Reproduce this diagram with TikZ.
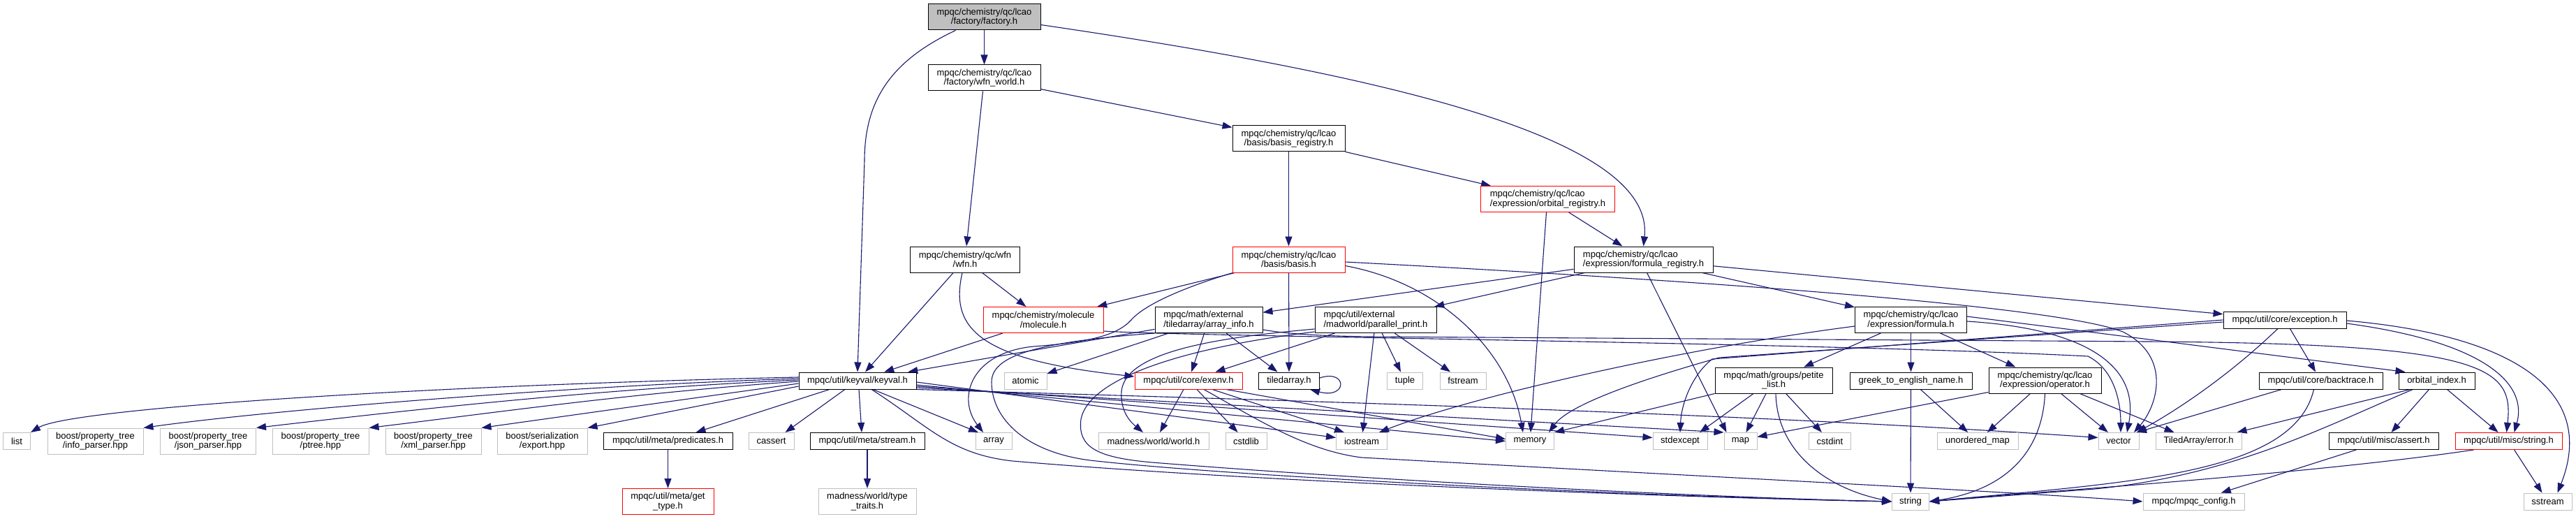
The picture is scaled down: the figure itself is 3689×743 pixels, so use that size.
\documentclass[tikz,border=0pt]{standalone}
\usepackage{fontspec}
\setmainfont{Liberation Sans}
\usetikzlibrary{arrows.meta}

\definecolor{edgeblue}{HTML}{191970}
\definecolor{extgray}{HTML}{BFBFBF}

\pgfdeclarelayer{bg}
\pgfdeclarelayer{edgelayer}
\pgfsetlayers{bg,edgelayer,main}

\tikzset{
  hdr/.style={draw=black, fill=white, line width=1pt, inner xsep=0pt, inner ysep=0pt,
    minimum height=24pt, font=\fontsize{13pt}{13.3pt}\selectfont},
  hdrtwo/.style={hdr, minimum height=37pt, align=center},
  hdrleft/.style={hdr, minimum height=37pt, align=left},
  sysinc/.style={hdr, draw=extgray},
  sysinctwo/.style={hdrtwo, draw=extgray},
  trunc/.style={draw=red},
  rootfile/.style={fill=extgray},
  dep/.style={draw=edgeblue, line width=1.1pt, -{Triangle[length=14pt,width=10pt]}}
}

\begin{document}
\begin{tikzpicture}[x=1pt, y=-1pt]
  \useasboundingbox (0,0) rectangle (3689,743);
  \begin{pgfonlayer}{bg}
    \fill[white] (0,0) rectangle (3689,743);
  \end{pgfonlayer}

  % Upper files
  \node[hdrtwo, rootfile, minimum width=161pt] (factory) at (1409.5,24.5) {mpqc/chemistry/qc/lcao\\/factory/factory.h};
  \node[hdrtwo, minimum width=161pt] (wfnworld) at (1409.5,111.5) {mpqc/chemistry/qc/lcao\\/factory/wfn\_world.h};
  \node[hdrtwo, minimum width=161pt] (basisreg) at (1845.5,198.5) {mpqc/chemistry/qc/lcao\\/basis/basis\_registry.h};
  \node[hdrleft, trunc, minimum width=192pt] (orbreg) at (2216.5,285) {mpqc/chemistry/qc/lcao\\/expression/orbital\_registry.h};
  \node[hdrtwo, minimum width=157pt] (wfn) at (1382,371.5) {mpqc/chemistry/qc/wfn\\/wfn.h};
  \node[hdrtwo, trunc, minimum width=161pt] (basis) at (1845.5,371.5) {mpqc/chemistry/qc/lcao\\/basis/basis.h};
  \node[hdrleft, minimum width=199pt] (formreg) at (2353.5,371.5) {mpqc/chemistry/qc/lcao\\/expression/formula\_registry.h};

  % Middle files
  \node[hdrtwo, trunc, minimum width=172pt] (molecule) at (1494,458) {mpqc/chemistry/molecule\\/molecule.h};
  \node[hdrleft, minimum width=154pt] (arrayinfo) at (1731,458) {mpqc/math/external\\/tiledarray/array\_info.h};
  \node[hdrleft, minimum width=174pt] (parprint) at (1970,458) {mpqc/util/external\\/madworld/parallel\_print.h};
  \node[hdrtwo, minimum width=160pt] (formula) at (2736.5,458) {mpqc/chemistry/qc/lcao\\/expression/formula.h};
  \node[hdr, minimum width=176pt] (exception) at (3272,458) {mpqc/util/core/exception.h};

  \node[hdr, minimum width=168pt] (keyval) at (1228,545) {mpqc/util/keyval/keyval.h};
  \node[sysinc, minimum width=61pt] (atomic) at (1468.5,545) {atomic};
  \node[hdr, trunc, minimum width=154pt] (exenv) at (1702,545) {mpqc/util/core/exenv.h};
  \node[hdr, minimum width=87pt] (tiledarray) at (1846,545) {tiledarray.h};
  \node[sysinc, minimum width=51pt] (tuple) at (2012,545) {tuple};
  \node[sysinc, minimum width=66pt] (fstream) at (2095,545) {fstream};
  \node[hdrtwo, minimum width=168pt] (petite) at (2540,544.5) {mpqc/math/groups/petite\\\_list.h};
  \node[hdr, minimum width=175pt] (greek) at (2736.5,545) {greek\_to\_english\_name.h};
  \node[hdrtwo, minimum width=161pt] (operator) at (2928.5,544.5) {mpqc/chemistry/qc/lcao\\/expression/operator.h};
  \node[hdr, minimum width=177pt] (backtrace) at (3323.5,545) {mpqc/util/core/backtrace.h};
  \node[hdr, minimum width=109pt] (orbindex) at (3489.5,545) {orbital\_index.h};

  % Lower files
  \node[sysinc, minimum width=39pt] (list) at (24,631.5) {list};
  \node[sysinctwo, minimum width=137pt] (infoparser) at (136.5,631.5) {boost/property\_tree\\/info\_parser.hpp};
  \node[sysinctwo, minimum width=137pt] (jsonparser) at (298,631.5) {boost/property\_tree\\/json\_parser.hpp};
  \node[sysinctwo, minimum width=138pt] (ptree) at (459,631.5) {boost/property\_tree\\/ptree.hpp};
  \node[sysinctwo, minimum width=137pt] (xmlparser) at (620.5,631.5) {boost/property\_tree\\/xml\_parser.hpp};
  \node[sysinctwo, minimum width=129pt] (export) at (776.5,631.5) {boost/serialization\\/export.hpp};
  \node[hdr, minimum width=185pt] (predicates) at (956.5,631.5) {mpqc/util/meta/predicates.h};
  \node[sysinc, minimum width=65pt] (cassert) at (1104.5,631.5) {cassert};
  \node[hdr, minimum width=164pt] (metastream) at (1242,631.5) {mpqc/util/meta/stream.h};
  \node[sysinc, minimum width=52pt] (array) at (1423,631.5) {array};
  \node[sysinc, minimum width=158pt] (world) at (1652,631.5) {madness/world/world.h};
  \node[sysinc, minimum width=59pt] (cstdlib) at (1784.5,631.5) {cstdlib};
  \node[sysinc, minimum width=73pt] (iostream) at (1950,631.5) {iostream};
  \node[sysinc, minimum width=69pt] (memory) at (2191,631.5) {memory};
  \node[sysinc, minimum width=78pt] (stdexcept) at (2406,631.5) {stdexcept};
  \node[sysinc, minimum width=47pt] (map) at (2492.5,631.5) {map};
  \node[sysinc, minimum width=60pt] (cstdint) at (2620.5,631.5) {cstdint};
  \node[sysinc, minimum width=116pt] (unorderedmap) at (2832,631.5) {unordered\_map};
  \node[sysinc, minimum width=58pt] (vector) at (3034,631.5) {vector};
  \node[sysinc, minimum width=123pt] (taerror) at (3148.5,631.5) {TiledArray/error.h};
  \node[hdr, minimum width=157pt] (assert) at (3413.5,631.5) {mpqc/util/misc/assert.h};
  \node[hdr, trunc, minimum width=153pt] (miscstring) at (3592.5,631.5) {mpqc/util/misc/string.h};

  \node[hdrtwo, trunc, minimum width=131pt] (gettype) at (956.5,718) {mpqc/util/meta/get\\\_type.h};
  \node[sysinctwo, minimum width=140pt] (typetraits) at (1242,718) {madness/world/type\\\_traits.h};
  \node[sysinc, minimum width=53pt] (string) at (2736,718) {string};
  \node[sysinc, minimum width=145pt] (mpqcconfig) at (3141.5,718) {mpqc/mpqc\_config.h};
  \node[sysinc, minimum width=69pt] (sstream) at (3648.5,718) {sstream};

  \begin{pgfonlayer}{edgelayer}
  % Top includes
  \draw[dep] (factory) -- (wfnworld);
  \draw[dep] ([xshift=-41pt]factory.south) .. controls (1280,85) and (1238,140) .. (1238,230) -- (keyval.north);
  \draw[dep] ([yshift=-11pt]factory.east) .. controls (2000,110) and (2370,200) .. (formreg.north);
  \draw[dep] (wfnworld) -- (wfn);
  \draw[dep] (wfnworld) -- (basisreg);
  \draw[dep] (basisreg) -- (basis);
  \draw[dep] (basisreg) -- (orbreg);
  \draw[dep] (orbreg) -- (formreg);
  \draw[dep] ([xshift=-2pt]orbreg.south) -- (memory);

  % wfn and basis
  \draw[dep] (wfn) -- (keyval);
  \draw[dep] (wfn) -- (molecule);
  \draw[dep] ([xshift=-4pt]wfn.south) .. controls (1360,470) and (1400,515) .. ([yshift=6pt]exenv.west);
  \draw[dep] (basis) -- (molecule);
  \draw[dep] ([xshift=-80pt]basis.south) .. controls (1700,410) and (1640,435) .. (1620,458)
    .. controls (1600,480) and (1560,490) .. (1480,496) .. controls (1390,505) and (1370,570) .. ([xshift=-15pt]array.north);
  \draw[dep] (basis) -- (tiledarray);
  \draw[dep] ([yshift=-9pt]basis.east) .. controls (2060,405) and (2160,500) .. ([xshift=-10pt]memory.north);
  \draw[dep] ([yshift=-3.5pt]basis.east) .. controls (2500,405) and (2950,440) .. (3040,475)
    .. controls (3110,510) and (3090,580) .. ([xshift=22pt]vector.north);

  % molecule and array_info
  \draw[dep] (molecule) -- (keyval);
  \draw[dep] ([yshift=-16pt]molecule.east) .. controls (1700,482) and (2600,490) .. (2990,510)
    .. controls (3030,530) and (3037,580) .. ([xshift=3pt]vector.north);
  \draw[dep] (arrayinfo) -- (keyval);
  \draw[dep] (arrayinfo) -- (atomic);
  \draw[dep] (arrayinfo) -- (exenv);
  \draw[dep] (arrayinfo) -- (tiledarray);
  \draw[dep] (arrayinfo.south west) .. controls (1480,490) and (1420,510) .. (1420,547)
    .. controls (1420,600) and (1470,650) .. (1570,660) .. controls (1800,685) and (2400,712) .. (string.west);
  \draw[dep] ([yshift=-14pt]arrayinfo.east) .. controls (1850,479) and (1900,481) .. (1960,482) -- (3075,489)
    .. controls (3560,492) and (3600,525) .. ([xshift=-3pt]miscstring.north);

  % formula_registry
  \draw[dep] (formreg) -- (arrayinfo);
  \draw[dep] (formreg) -- (parprint);
  \draw[dep] (formreg) -- (formula);
  \draw[dep] (formreg) -- (exception);
  \draw[dep] ([xshift=5pt]formreg.south) -- ([xshift=-20pt]map.north);

  % parallel_print
  \draw[dep] (parprint) -- (tuple);
  \draw[dep] (parprint) -- (fstream);
  \draw[dep] (parprint) -- (iostream);
  \draw[dep] (parprint) -- (exenv);
  \draw[dep] ([yshift=-13pt]parprint.west) .. controls (1760,482) and (1612,500) .. (1606,560)
    .. controls (1604,590) and (1620,605) .. ([xshift=-15pt]world.north);
  \draw[dep] ([yshift=-17pt]parprint.west) .. controls (1700,497) and (1560,540) .. (1548,600)
    .. controls (1543,640) and (1570,655) .. (1650,662) .. controls (2000,690) and (2450,712) .. (string.west);

  % formula
  \draw[dep] (formula) -- (petite);
  \draw[dep] (formula) -- (greek);
  \draw[dep] (formula) -- (operator);
  \draw[dep] ([yshift=-9pt]formula.west) .. controls (2400,500) and (2100,570) .. ([xshift=25pt]iostream.north);
  \draw[dep] ([yshift=-2pt]formula.east) .. controls (2980,470) and (3065,520) .. ([xshift=12pt]vector.north);
  \draw[dep] ([yshift=5pt]formula.east) -- ([xshift=-45pt]orbindex.north);

  % exception
  \draw[dep] ([yshift=-3pt]exception.west) -- (2462,512) .. controls (2380,535) and (2250,575) .. ([xshift=-8pt]memory.north east);
  \draw[dep] (exception.west) -- (2452,514) .. controls (2425,535) and (2408,575) .. (stdexcept.north);
  \draw[dep] (exception) -- (backtrace);
  \draw[dep] ([yshift=-5pt]exception.east) .. controls (3560,490) and (3620,550) .. ([xshift=8pt]miscstring.north);
  \draw[dep] ([yshift=-1pt]exception.east) .. controls (3600,480) and (3720,560) .. ([xshift=14pt]sstream.north);
  \draw[dep] ([xshift=-10pt]exception.south) .. controls (3200,530) and (3130,580) .. ([xshift=26pt]vector.north);

  % backtrace, orbital_index and misc
  \draw[dep] ([xshift=-56pt]backtrace.south) -- ([xshift=26pt]vector.north);
  \draw[dep] ([xshift=-10pt]backtrace.south) .. controls (3285,680) and (3050,690) .. (string.east);
  \draw[dep] ([xshift=-38pt]orbindex.south) -- ([xshift=55pt]taerror.north);
  \draw[dep] ([xshift=-34pt]orbindex.south) .. controls (3330,610) and (3200,680) .. (3000,700) -- (string.east);
  \draw[dep] (orbindex) -- (assert);
  \draw[dep] (orbindex) -- (miscstring);
  \draw[dep] (assert) -- (mpqcconfig);
  \draw[dep] ([xshift=-50pt]miscstring.south) .. controls (3300,680) and (2900,705) .. (string.east);
  \draw[dep] (miscstring) -- (sstream);

  % operator, petite_list, greek
  \draw[dep] ([yshift=-17pt]operator.west) -- ([yshift=6pt]map.east);
  \draw[dep] (operator) -- (unorderedmap);
  \draw[dep] (operator.south) .. controls (2925,640) and (2880,700) .. (string.east);
  \draw[dep] (operator) -- (vector);
  \draw[dep] ([xshift=50pt]operator.south) -- ([xshift=-35pt]taerror.north);
  \draw[dep] (petite.south west) -- (memory.north east);
  \draw[dep] ([xshift=-29pt]petite.south) -- ([xshift=28pt]stdexcept.north);
  \draw[dep] ([xshift=-11pt]petite.south) -- ([xshift=8pt]map.north);
  \draw[dep] (petite) -- (cstdint);
  \draw[dep] ([xshift=3pt]petite.south) .. controls (2545,650) and (2620,700) .. (string.west);
  \draw[dep] (greek) -- (string);
  \draw[dep] (greek) -- (unorderedmap);

  % keyval
  \draw[dep] ([yshift=5pt]keyval.west) .. controls (600,552) and (100,585) .. (list.north east);
  \draw[dep] ([yshift=3pt]keyval.west) .. controls (800,553) and (380,588) .. (infoparser.north east);
  \draw[dep] ([yshift=1pt]keyval.west) .. controls (850,557) and (560,590) .. (jsonparser.north east);
  \draw[dep] ([yshift=-1pt]keyval.west) .. controls (900,563) and (700,592) .. (ptree.north east);
  \draw[dep] ([yshift=-4pt]keyval.west) -- (xmlparser.north east);
  \draw[dep] ([yshift=-8pt]keyval.west) -- (export.north east);
  \draw[dep] ([xshift=-40pt]keyval.south) -- ([xshift=40pt]predicates.north);
  \draw[dep] ([xshift=-18pt]keyval.south) -- ([xshift=20pt]cassert.north);
  \draw[dep] ([xshift=2pt]keyval.south) -- ([xshift=-8pt]metastream.north);
  \draw[dep] ([xshift=22pt]keyval.south) -- ([xshift=-22pt]array.north);
  \draw[dep] ([xshift=20pt]keyval.south) .. controls (1330,610) and (1360,650) .. (1450,660)
    .. controls (1800,690) and (2400,712) .. (string.west);
  \draw[dep] ([yshift=-2pt]keyval.east) -- ([yshift=5pt]iostream.west);
  \draw[dep] ([yshift=-6pt]keyval.east) -- (memory.west);
  \draw[dep] ([yshift=-8pt]keyval.east) -- ([yshift=5pt]stdexcept.west);
  \draw[dep] ([yshift=-10pt]keyval.east) -- (map.north west);
  \draw[dep] (keyval.south east) .. controls (1900,575) and (2500,592) .. ([yshift=5pt]vector.west);

  % exenv
  \draw[dep] ([xshift=-7pt]exenv.south) -- ([xshift=9pt]world.north);
  \draw[dep] (exenv) -- (cstdlib);
  \draw[dep] ([xshift=34pt]exenv.south) -- ([xshift=-25pt]iostream.north);
  \draw[dep] ([xshift=54pt]exenv.south) -- ([yshift=3pt]memory.west);
  \draw[dep] ([xshift=22pt]exenv.south) .. controls (1800,600) and (1870,645) .. (1950,655)
    .. controls (2400,680) and (2900,705) .. (mpqcconfig.west);

  % tiledarray self include, meta
  \draw[dep] ([yshift=4pt]tiledarray.east) .. controls (1930,528) and (1930,572) .. ([xshift=30pt]tiledarray.south);
  \draw[dep] (predicates) -- (gettype);
  \draw[dep] (metastream) -- (typetraits);
  \end{pgfonlayer}
\end{tikzpicture}
\end{document}
